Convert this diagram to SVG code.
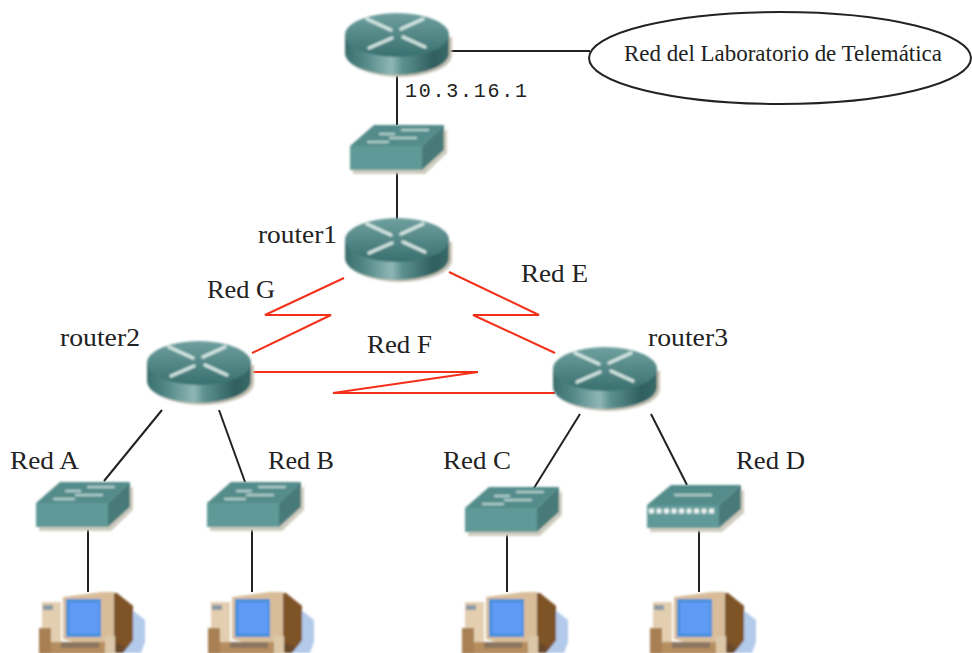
<svg xmlns="http://www.w3.org/2000/svg" width="972" height="653" viewBox="0 0 972 653">
<style>
.lbl{font-family:"Liberation Serif","Times New Roman",serif;font-size:26px;fill:#222}
.mono{font-family:"Liberation Mono","Courier New",monospace;font-size:20px;fill:#222}
.k{stroke:#222;stroke-width:2;fill:none}
.r{stroke:#f5301a;stroke-width:2;fill:none}
.w{stroke:#dfeeea;stroke-width:3.4;fill:none;stroke-linecap:round;opacity:.9}
.s{stroke:#cfe2df;stroke-width:2.4;fill:none;stroke-linecap:round;opacity:.75}
</style>
<defs>
<linearGradient id="body" x1="0" x2="1" y1="0" y2="0">
<stop offset="0" stop-color="#3a6f6e"/><stop offset=".2" stop-color="#548a89"/><stop offset=".45" stop-color="#8fb7b5"/><stop offset=".55" stop-color="#5d9190"/><stop offset=".85" stop-color="#2f5f5f"/><stop offset="1" stop-color="#3a6a69"/>
</linearGradient>
<linearGradient id="top" x1="0" x2="0" y1="0" y2="1">
<stop offset="0" stop-color="#6fa09f"/><stop offset="1" stop-color="#38706f"/>
</linearGradient>
<filter id="soft" x="-5%" y="-5%" width="110%" height="110%"><feGaussianBlur stdDeviation="0.9"/></filter>
<symbol id="router" width="108" height="68" overflow="visible">
<g filter="url(#soft)">
<path d="M3 24V42A52 22 0 0 0 107 42V24Z" fill="#c6c3b6"/>
<path d="M0 22V40A52 22 0 0 0 104 40V22Z" fill="url(#body)"/>
<ellipse cx="52" cy="22" rx="52" ry="22" fill="url(#top)"/>
<path class="w" d="M22 6L46 17M78 6L56 16M24 35L47 25M58 24L80 34"/>
</g>
</symbol>
<symbol id="switch" width="98" height="50" overflow="visible">
<g filter="url(#soft)">
<path d="M3 24H75L97 4V28L75 49H3Z" fill="#cfccbf"/>
<path d="M24 0H94L72 21H0Z" fill="#538c8a"/>
<path d="M0 21H72V45H0Z" fill="#5f9a98"/>
<path d="M72 21L94 0V25L72 45Z" fill="#467a79"/>
<path class="s" d="M52 5H78M30 9H44M40 13H66M18 17H38"/>
</g>
</symbol>
<symbol id="hub" width="98" height="50" overflow="visible">
<g filter="url(#soft)">
<path d="M3 24H75L97 4V28L75 47H3Z" fill="#cfccbf"/>
<path d="M24 0H94L72 20H0Z" fill="#538c8a"/>
<path d="M0 20H72V43H0Z" fill="#5f9a98"/>
<path d="M72 20L94 0V24L72 43Z" fill="#467a79"/>
<path class="s" d="M28 10H64"/>
<path d="M2 26H68" stroke="#eef4f2" stroke-width="5" stroke-dasharray="5 2.5" fill="none"/>
</g>
</symbol>
<symbol id="pc" width="108" height="62" overflow="visible">
<g filter="url(#soft)">
<path d="M78 10L92 17L106 28V50L102 61H60Z" fill="#b3caea"/>
<path d="M62 1H76L94 14V48L84 61H62Z" fill="#6b4a2a"/>
<path d="M76 1H78L94 14V48L88 56L76 50Z" fill="#7e5228"/>
<path d="M24 5L62 0H75V50H34L24 47Z" fill="#d9bd9a"/>
<path d="M27 7H62V45H27Z" fill="#3d8fd8"/>
<path d="M30 10H60V42H30Z" fill="#5f9af5"/>
<path d="M3 10H22V57H3Z" fill="#e3cfb0"/>
<path d="M4 13H14V18H4Z" fill="#8a99a6"/>
<path d="M0 36H12V62H0Z" fill="#a88052"/>
<path d="M12 50H72V62H12Z" fill="#b68e60"/>
<path d="M22 50H60V56H22Z" fill="#8a7560"/>
<path d="M66 44H76V62H66Z" fill="#dcc8a8"/>
</g>
</symbol>
</defs>
<g id="connectors">
<path class="k" d="M397 76V125M449 51H590M397 172V219M162 410L104 481M219 410L245 482M88 528V592M252 528V592M580 414L534 488M651 414L687 485M507 533V592M699 530V592"/>
<path class="r" d="M344 278L265 315H331L252 353M449 272L539 315H473L555 353M250 372H478L333 393H555"/>
</g>
<g id="router0"><use href="#router" x="345" y="13"/></g>
<g id="router1"><use href="#router" x="345" y="218"/><text class="lbl" x="258" y="243" textLength="79" lengthAdjust="spacingAndGlyphs">router1</text></g>
<g id="router2"><use href="#router" x="147" y="341"/><text class="lbl" x="60" y="346" textLength="80" lengthAdjust="spacingAndGlyphs">router2</text></g>
<g id="router3"><use href="#router" x="553" y="347"/><text class="lbl" x="648" y="346" textLength="80" lengthAdjust="spacingAndGlyphs">router3</text></g>
<g id="switch0"><use href="#switch" x="350" y="125"/></g>
<g id="switchA"><use href="#switch" x="36" y="482"/></g>
<g id="switchB"><use href="#switch" x="207" y="482"/></g>
<g id="switchC"><use href="#switch" x="465" y="487"/></g>
<g id="hubD"><use href="#hub" x="647" y="485"/></g>
<g id="pcA"><use href="#pc" x="39" y="592"/></g>
<g id="pcB"><use href="#pc" x="208" y="592"/></g>
<g id="pcC"><use href="#pc" x="462" y="592"/></g>
<g id="pcD"><use href="#pc" x="650" y="592"/></g>
<g id="lab">
<ellipse cx="780" cy="58" rx="191" ry="46" fill="#fff" stroke="#222" stroke-width="2"/>
<text class="lbl" x="624" y="61" textLength="318" lengthAdjust="spacingAndGlyphs" style="font-size:23px">Red del Laboratorio de Telemática</text>
</g>
<g id="labels">
<text class="mono" x="405" y="97" textLength="122">10.3.16.1</text>
<text class="lbl" x="207" y="298" textLength="68" lengthAdjust="spacingAndGlyphs">Red G</text>
<text class="lbl" x="521" y="282" textLength="67" lengthAdjust="spacingAndGlyphs">Red E</text>
<text class="lbl" x="367" y="353" textLength="65" lengthAdjust="spacingAndGlyphs">Red F</text>
<text class="lbl" x="10" y="469" textLength="69" lengthAdjust="spacingAndGlyphs">Red A</text>
<text class="lbl" x="268" y="469" textLength="66" lengthAdjust="spacingAndGlyphs">Red B</text>
<text class="lbl" x="443" y="469" textLength="68" lengthAdjust="spacingAndGlyphs">Red C</text>
<text class="lbl" x="736" y="469" textLength="69" lengthAdjust="spacingAndGlyphs">Red D</text>
</g>
</svg>
